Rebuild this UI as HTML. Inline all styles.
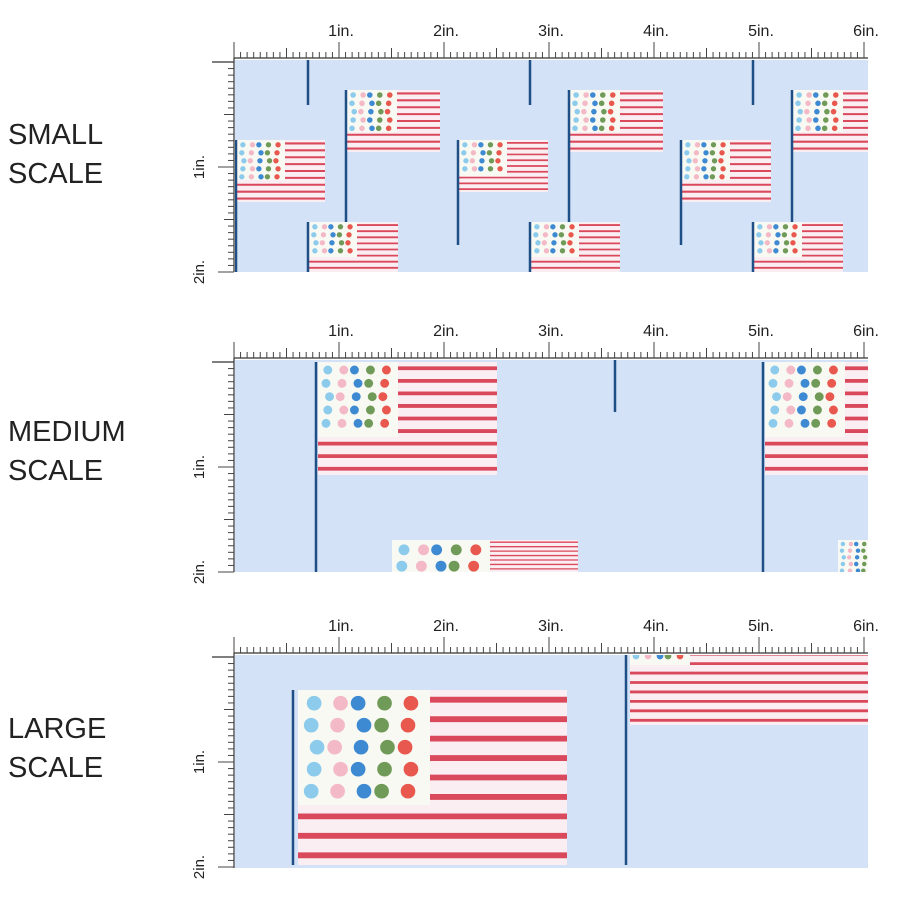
<!DOCTYPE html>
<html><head><meta charset="utf-8"><style>
html,body{margin:0;padding:0;background:#fff;width:900px;height:900px;overflow:hidden}
svg{display:block}
text{font-family:"Liberation Sans",sans-serif;fill:#222}
</style></head><body>
<svg id="s" width="900" height="900" xmlns="http://www.w3.org/2000/svg"></svg>
<script>
const S=document.getElementById('s');let h='';
const P=105;
function ruler(y0,y1){
  const x0=234;
  h+=`<line x1="${x0}" y1="${y0-2}" x2="868" y2="${y0-2}" stroke="#333" stroke-width="1.2"/>`;
  for(let i=0;i<=96;i++){const x=x0+i*P/16;if(x>869)break;const L=i%16==0?16:(i%8==0?10:6);
    h+=`<line x1="${x}" y1="${y0-2}" x2="${x}" y2="${y0-2-L}" stroke="#444" stroke-width="1"/>`;
    if(i%16==0&&i>0)h+=`<text x="${x+2}" y="${y0-24}" font-size="16" text-anchor="middle">${i/16}in.</text>`;}
  h+=`<line x1="${x0}" y1="${y0-2}" x2="${x0}" y2="${y1}" stroke="#333" stroke-width="1.2"/>`;
  h+=`<line x1="212" y1="${y0+2}" x2="${x0}" y2="${y0+2}" stroke="#333" stroke-width="1.2"/>`;
  for(let i=1;i<=32;i++){const y=y0+2+i*P/16;if(y>y1)break;const L=i%16==0?16:(i%8==0?10:6);
    h+=`<line x1="${x0}" y1="${y}" x2="${x0-L}" y2="${y}" stroke="#444" stroke-width="1"/>`;
    if(i%16==0)h+=`<text transform="translate(${x0-30},${y}) rotate(-90)" font-size="15" text-anchor="middle">${i/16}in.</text>`;}
}
const fl=['#e8584f','#3d8ad3','#8ccbec','#6f9a58','#f4b9c6'];
function flag(x,y,w,hh,cw,ch,px,py2){
  h+=`<rect x="${x}" y="${y}" width="${w}" height="${hh}" fill="#fbeef2"/>`;
  const n=9;for(let i=0;i<n;i++){const yy=y+hh*(i+0.5)/n;h+=`<line x1="${x+(yy<y+ch?cw:0)}" y1="${yy}" x2="${x+w}" y2="${yy}" stroke="#d9485b" stroke-width="${Math.max(1.3,hh/n*0.3)}"/>`;}
  h+=`<rect x="${x}" y="${y}" width="${cw}" height="${ch}" fill="#f8f9f2"/>`;
  const r=Math.max(1.8,cw/18);let k=0;
  for(let yy=y+r*1.8;yy<y+ch-r;yy+=r*3)for(let xx=x+r*1.8;xx<x+cw-r;xx+=r*3.2){k++;
    h+=`<circle cx="${xx+(k%3)*r*0.4}" cy="${yy}" r="${r}" fill="${fl[(k*7)%5]}"/>`;}
  if(px!==undefined)h+=`<line x1="${px}" y1="${y}" x2="${px}" y2="${py2}" stroke="#1e4f86" stroke-width="2.5"/>`;
}
function panel(y0,y1,fn){h+=`<svg x="235" y="${y0}" width="633" height="${y1-y0}"><g transform="translate(-235,${-y0})"><rect x="235" y="${y0}" width="633" height="${y1-y0}" fill="#d3e2f6"/>`;fn();h+=`</g></svg>`;}
function pole(x,a,b){h+=`<line x1="${x}" y1="${a}" x2="${x}" y2="${b}" stroke="#1e4f86" stroke-width="2.5"/>`;}
panel(60,272,()=>{
  pole(308,60,105);pole(530,60,105);pole(753,60,105);
  flag(237,140,88,62,48,40,236,272);
  for(const x of [347,570,793])flag(x,90,93,62,50,42,x-1,245);
  flag(459,140,89,52,48,36,458,245);flag(682,140,89,62,48,40,681,245);
  for(const x of [309,531,754])flag(x,222,89,55,48,35,x-1,272);
});
ruler(60,272);
panel(360,572,()=>{
  flag(318,362,179,113,80,75,316,572);pole(615,360,412);
  flag(765,362,120,113,80,75,763,572);
  flag(392,540,186,40,98,40);flag(838,540,40,40,40,40);
});
ruler(360,572);
panel(655,868,()=>{
  flag(298,690,269,175,132,115,293,865);pole(626,655,865);
  flag(630,640,250,85,60,25);
});
ruler(655,868);
h+=`<text x="8" y="144" font-size="29">SMALL</text><text x="8" y="183" font-size="29">SCALE</text>`;
h+=`<text x="8" y="441" font-size="29">MEDIUM</text><text x="8" y="480" font-size="29">SCALE</text>`;
h+=`<text x="8" y="738" font-size="29">LARGE</text><text x="8" y="777" font-size="29">SCALE</text>`;
S.innerHTML=h;
</script>
</body></html>
